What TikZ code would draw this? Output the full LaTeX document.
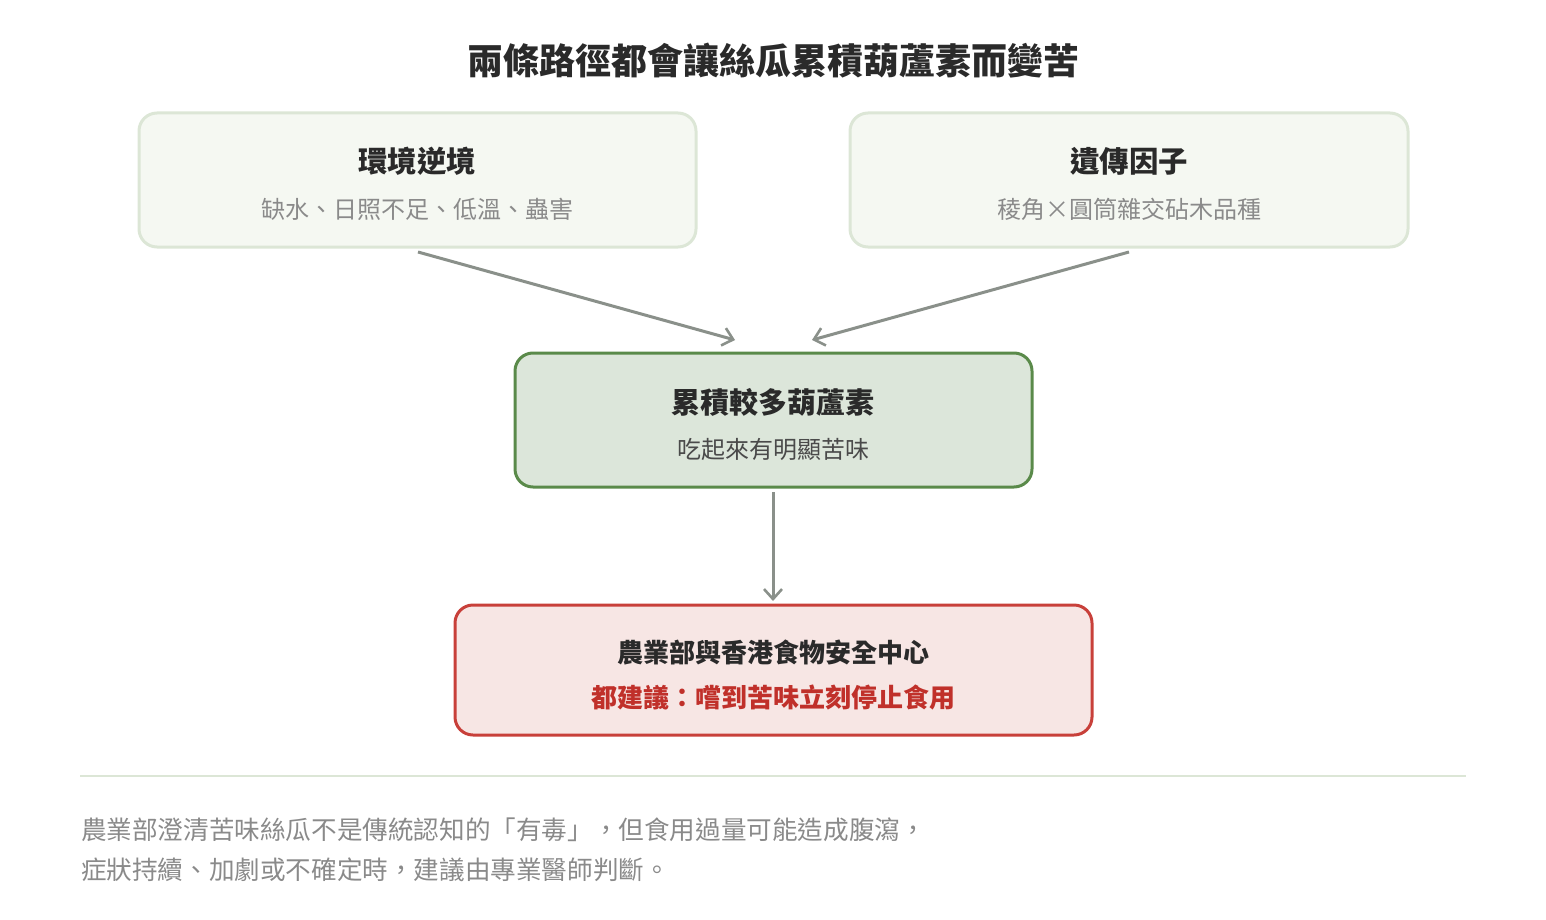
\documentclass[tikz,border=0pt]{standalone}
\usepackage{fontspec}
\setmainfont{Noto Sans CJK TC}
\usetikzlibrary{arrows.meta}
\definecolor{txt}{HTML}{2A2A2A}
\definecolor{sub}{HTML}{8A8A8A}
\definecolor{envfill}{HTML}{F5F8F2}
\definecolor{envline}{HTML}{DCE6D6}
\definecolor{midfill}{HTML}{DCE6DA}
\definecolor{midline}{HTML}{5A8A4A}
\definecolor{redfill}{HTML}{F7E6E4}
\definecolor{redline}{HTML}{C8403A}
\definecolor{redtxt}{HTML}{C0302A}
\definecolor{arr}{HTML}{8A908A}
\begin{document}
\begin{tikzpicture}[x=0.5pt,y=-0.5pt,
  box/.style={rounded corners=9pt,line width=1.5pt},
  ttl/.style={font=\fontsize{14.7}{17}\selectfont\bfseries,text=txt},
  st/.style={font=\fontsize{12}{14}\selectfont,text=sub},
  conn/.style={draw=arr,line width=1.5pt,-{Straight Barb[length=5pt,width=9pt,line width=1.3pt]}}]
\useasboundingbox (0,0) rectangle (1546,920);
\node[font=\fontsize{18}{21}\selectfont\bfseries,text=txt] (title) at (773,61) {兩條路徑都會讓絲瓜累積葫蘆素而變苦};
\draw[box,fill=envfill,draw=envline] (139,113) rectangle (696,247);
\node[ttl] (envt) at (417,161) {環境逆境};
\node[st] (envs) at (417,209) {缺水、日照不足、低溫、蟲害};
\draw[box,fill=envfill,draw=envline] (850,113) rectangle (1408,247);
\node[ttl] (gent) at (1129,161) {遺傳因子};
\node[st] (gens) at (1129,209) {稜角×圓筒雜交砧木品種};
\draw[box,fill=midfill,draw=midline] (515,353) rectangle (1032,487);
\node[ttl,font=\fontsize{14.5}{17}\selectfont\bfseries] (midt) at (773,402) {累積較多葫蘆素};
\node[font=\fontsize{12}{14}\selectfont,text=txt!85] (mids) at (773,449) {吃起來有明顯苦味};
\draw[box,fill=redfill,draw=redline] (455,605) rectangle (1092,735);
\node[font=\fontsize{13}{15}\selectfont\bfseries,text=txt] (redt) at (773,653) {農業部與香港食物安全中心};
\node[font=\fontsize{13}{15}\selectfont\bfseries,text=redtxt] (reds) at (773,697) {都建議：嚐到苦味立刻停止食用};
\coordinate (a1) at (418,252); \coordinate (b1) at (735,340);
\coordinate (a2) at (1129,252); \coordinate (b2) at (812,340);
\coordinate (a3) at (773,492); \coordinate (b3) at (773,601);
\draw[conn] (a1) -- (b1);
\draw[conn] (a2) -- (b2);
\draw[conn] (a3) -- (b3);
\draw[draw=envline,line width=1pt] (80,776) -- (1466,776);
\node[anchor=west,st,font=\fontsize{12.8}{15}\selectfont] (f1) at (74,830) {農業部澄清苦味絲瓜不是傳統認知的「有毒」，但食用過量可能造成腹瀉，};
\node[anchor=west,st,font=\fontsize{12.8}{15}\selectfont] (f2) at (74,870) {症狀持續、加劇或不確定時，建議由專業醫師判斷。};
\end{tikzpicture}
\end{document}
